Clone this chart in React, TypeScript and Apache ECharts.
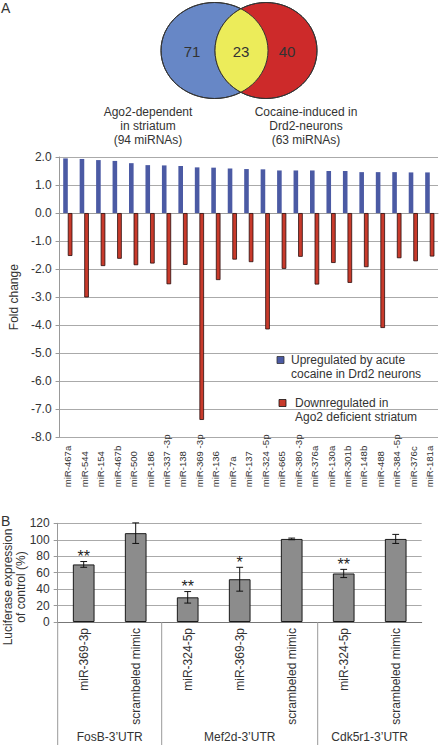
import React, { useEffect, useRef } from "react";
import * as echarts from "echarts";

const FONT = "'Liberation Sans', Arial, sans-serif";

// Panel A data
const categoriesA = [
  "miR-467a", "miR-544", "miR-154", "miR-467b", "miR-500", "miR-186", "miR-337 -3p",
  "miR-138", "miR-369 -3p", "miR-136", "miR-7a", "miR-137", "miR-324 -5p", "miR-665",
  "miR-380 -3p", "miR-376a", "miR-130a", "miR-301b", "miR-148b", "miR-488",
  "miR-384 -5p", "miR-376c", "miR-181a",
];
const upregulated = [
  1.95, 1.93, 1.89, 1.86, 1.78, 1.71, 1.7, 1.68, 1.63, 1.62, 1.59, 1.57, 1.56, 1.52,
  1.52, 1.52, 1.5, 1.5, 1.46, 1.46, 1.46, 1.45, 1.45,
];
const downregulated = [
  -1.53, -3.01, -1.89, -1.63, -1.86, -1.8, -2.54, -1.85, -7.38, -2.39, -1.66, -1.75,
  -4.15, -1.99, -1.56, -2.55, -1.78, -2.49, -1.93, -4.1, -1.61, -1.72, -1.55,
];
const seriesNamesA = [
  "Upregulated by acute\ncocaine in Drd2 neurons",
  "Downregulated in\nAgo2 deficient striatum",
];

// Venn data
const vennCounts = ["71", "23", "40"];
const vennLabels = ["Ago2-dependent\nin striatum\n(94 miRNAs)", "Cocaine-induced in\nDrd2-neurons\n(63 miRNAs)"];

// Panel B data
const categoriesB = [
  "miR-369-3p", "scrambeled mimic", "miR-324-5p", "miR-369-3p", "scrambeled mimic",
  "miR-324-5p", "scrambeled mimic",
];
const luciferase = [70, 108, 30, 52, 101, 59, 101];
const errorsB = [3.5, 12.5, 7, 14.5, 1, 5, 5.5];
const significance = ["**", "", "**", "*", "", "**", ""];
const groupNames = ["FosB-3\u2019UTR", "Mef2d-3\u2019UTR", "Cdk5r1-3\u2019UTR"];
const groupSizes = [2, 3, 2];
const yNameB = "Luciferase expression\nof control (%)";

const BLUE = "#4b5aa4";
const RED = "#c83a2b";
const TXT = "#333";

function lensPoints(b: any, r: any) {
  const pts: number[][] = [];
  const k = (r.cx - b.cx) / (r.rx + b.rx);
  const dy = b.ry * Math.sqrt(1 - k * k);
  const N = 60;
  for (let i = 0; i <= N; i++) {
    const y = b.cy - dy + (2 * dy * i) / N;
    const s = Math.sqrt(Math.max(0, 1 - ((y - b.cy) / b.ry) ** 2));
    pts.push([b.cx + b.rx * s, y]);
  }
  for (let i = N; i >= 0; i--) {
    const y = r.cy - dy + (2 * dy * i) / N;
    const s = Math.sqrt(Math.max(0, 1 - ((y - r.cy) / r.ry) ** 2));
    pts.push([r.cx - r.rx * s, y]);
  }
  return pts;
}

export default function App() {
  const ref = useRef<HTMLDivElement>(null);
  useEffect(() => {
    document.body.style.margin = "0";
    document.body.style.overflow = "hidden";
    const chart = echarts.init(ref.current!, null, { renderer: "svg" });

    const blueC = { cx: 214.5, cy: 50.5, rx: 53.5, ry: 48 };
    const redC = { cx: 266, cy: 50.5, rx: 51, ry: 48 };

    const txt = (text: string, x: number, y: number, size: number, align = "left", va = "middle", extra: any = {}, el: any = {}) => ({
      type: "text",
      x,
      y,
      z: 10,
      ...el,
      style: { text, fontSize: size, fontFamily: FONT, fill: TXT, align, verticalAlign: va, ...extra },
    });

    const staticGraphics: any[] = [
      txt("A", 1, 8, 14),
      txt("B", 1, 521, 14),
      { type: "ellipse", z: 1, shape: blueC, style: { fill: "#6787c6", stroke: "#333", lineWidth: 1 } },
      { type: "ellipse", z: 2, shape: redC, style: { fill: "#cd2a2a", stroke: "#333", lineWidth: 1 } },
      { type: "polygon", z: 3, shape: { points: lensPoints(blueC, redC) }, style: { fill: "#ecec5a" } },
      { type: "ellipse", z: 4, shape: blueC, style: { fill: "none", stroke: "#333", lineWidth: 1 } },
      { type: "ellipse", z: 4, shape: redC, style: { fill: "none", stroke: "#333", lineWidth: 1 } },
      txt(vennCounts[0], 192, 51, 15, "center"),
      txt(vennCounts[1], 241, 51, 15, "center"),
      txt(vennCounts[2], 287, 51, 15, "center"),
      txt(vennLabels[0], 148, 105, 12, "center", "top", { lineHeight: 14 }),
      txt(vennLabels[1], 306, 105, 12, "center", "top", { lineHeight: 14 }),
      { type: "rect", z: 10, shape: { x: 277, y: 356.5, width: 7, height: 7 }, style: { fill: BLUE, stroke: "#333", lineWidth: 0.8 } },
      txt(seriesNamesA[0], 291, 353, 12, "left", "top", { lineHeight: 14 }),
      { type: "rect", z: 10, shape: { x: 279, y: 399.5, width: 7, height: 7 }, style: { fill: RED, stroke: "#111", lineWidth: 0.8 } },
      txt(seriesNamesA[1], 295, 396, 12, "left", "top", { lineHeight: 14 }),
      txt(yNameB, 14, 587, 12, "center", "middle", { lineHeight: 13 }, { rotation: Math.PI / 2 }),
    ];

    const axisLblA = { fontSize: 12, color: TXT, fontFamily: FONT };

    const option: any = {
      animation: false,
      textStyle: { fontFamily: FONT },
      grid: [
        { left: 57.7, top: 157, width: 380.3, height: 280.3 },
        { left: 57.7, top: 523.3, width: 364, height: 98.7 },
      ],
      xAxis: [
        {
          gridIndex: 0,
          type: "category",
          data: categoriesA,
          axisLine: { onZero: true, lineStyle: { color: "#999" } },
          axisTick: { length: 3, lineStyle: { color: "#999" } },
          axisLabel: { show: false },
        },
        {
          gridIndex: 0,
          type: "category",
          data: categoriesA,
          position: "bottom",
          axisLine: { show: false, onZero: false },
          axisTick: { show: false },
          axisLabel: { interval: 0, rotate: 90, align: "left", margin: 50, fontSize: 9.6, color: TXT, fontFamily: FONT },
        },
        {
          gridIndex: 1,
          type: "category",
          data: categoriesB,
          axisLine: { lineStyle: { color: "#777" } },
          axisTick: { length: 103, interval: 0, lineStyle: { color: "#999" } },
          axisLabel: { interval: 0, rotate: 90, margin: 6, fontSize: 12, color: TXT, fontFamily: FONT },
        },
      ],
      yAxis: [
        {
          gridIndex: 0,
          type: "value",
          min: -8,
          max: 2,
          interval: 1,
          axisLabel: { ...axisLblA, margin: 8, formatter: (v: number) => v.toFixed(1) },
          axisLine: { show: true, lineStyle: { color: "#999" } },
          axisTick: { show: true, length: 4, lineStyle: { color: "#999" } },
          splitLine: { lineStyle: { color: "#aaa" } },
          name: "Fold change",
          nameLocation: "middle",
          nameGap: 38,
          nameTextStyle: { fontSize: 12, color: TXT, fontFamily: FONT },
        },
        {
          gridIndex: 1,
          type: "value",
          min: 0,
          max: 120,
          interval: 20,
          axisLabel: { ...axisLblA, margin: 8 },
          axisLine: { show: true, lineStyle: { color: "#999" } },
          axisTick: { show: true, length: 4, lineStyle: { color: "#999" } },
          splitLine: { lineStyle: { color: "#aaa" } },
        },
      ],
      series: [
        {
          name: seriesNamesA[0],
          type: "bar",
          xAxisIndex: 0,
          yAxisIndex: 0,
          data: upregulated,
          barWidth: 4.6,
          barGap: "0%",
          itemStyle: { color: BLUE },
        },
        {
          name: seriesNamesA[1],
          type: "bar",
          xAxisIndex: 0,
          yAxisIndex: 0,
          data: downregulated,
          barWidth: 4.6,
          barGap: "0%",
          itemStyle: { color: RED, borderColor: "#2a0d0d", borderWidth: 0.8 },
        },
        {
          type: "bar",
          xAxisIndex: 2,
          yAxisIndex: 1,
          data: luciferase,
          barWidth: 21.7,
          itemStyle: { color: "#8c8c8c", borderColor: "#1a1a1a", borderWidth: 1 },
        },
        {
          type: "custom",
          xAxisIndex: 2,
          yAxisIndex: 1,
          z: 5,
          data: luciferase.map((v, i) => [i, v, errorsB[i]]),
          renderItem: (params: any, api: any) => {
            const x = api.value(0);
            const v = api.value(1);
            const e = api.value(2);
            const top = api.coord([x, v + e]);
            const bot = api.coord([x, v - e]);
            const hw = 3.4;
            const ls = { stroke: "#111", lineWidth: 1 };
            return {
              type: "group",
              children: [
                { type: "line", shape: { x1: top[0], y1: top[1], x2: bot[0], y2: bot[1] }, style: ls },
                { type: "line", shape: { x1: top[0] - hw, y1: top[1], x2: top[0] + hw, y2: top[1] }, style: ls },
                { type: "line", shape: { x1: bot[0] - hw, y1: bot[1], x2: bot[0] + hw, y2: bot[1] }, style: ls },
                {
                  type: "text",
                  style: {
                    text: significance[params.dataIndex],
                    x: top[0],
                    y: top[1] + 3,
                    align: "center",
                    verticalAlign: "bottom",
                    fontSize: 16,
                    fontFamily: FONT,
                    fill: "#222",
                  },
                },
              ],
            };
          },
        },
      ],
      graphic: staticGraphics,
    };

    chart.setOption(option);

    // Group separators and labels for panel B, from the category axis scale
    const c0 = chart.convertToPixel({ xAxisIndex: 2 } as any, 0 as any) as any;
    const c1 = chart.convertToPixel({ xAxisIndex: 2 } as any, 1 as any) as any;
    const cx0 = Array.isArray(c0) ? c0[0] : c0;
    const cx1 = Array.isArray(c1) ? c1[0] : c1;
    const band = cx1 - cx0;
    const y0 = chart.convertToPixel({ yAxisIndex: 1 } as any, 0) as any;
    const yBase = Array.isArray(y0) ? y0[1] : y0;
    const dyn: any[] = [];
    let start = 0;
    groupSizes.forEach((n, gi) => {
      const left = cx0 - band / 2 + start * band;
      const right = left + n * band;
      dyn.push({
        type: "line",
        z: 10,
        shape: { x1: left, y1: yBase, x2: left, y2: 745 },
        style: { stroke: "#999", lineWidth: 1 },
      });
      dyn.push(txt(groupNames[gi], (left + right) / 2, 737, 12, "center"));
      start += n;
    });
    chart.setOption({ graphic: [...staticGraphics, ...dyn] });

    return () => chart.dispose();
  }, []);
  return <div ref={ref} style={{ width: 439, height: 745 }} />;
}
